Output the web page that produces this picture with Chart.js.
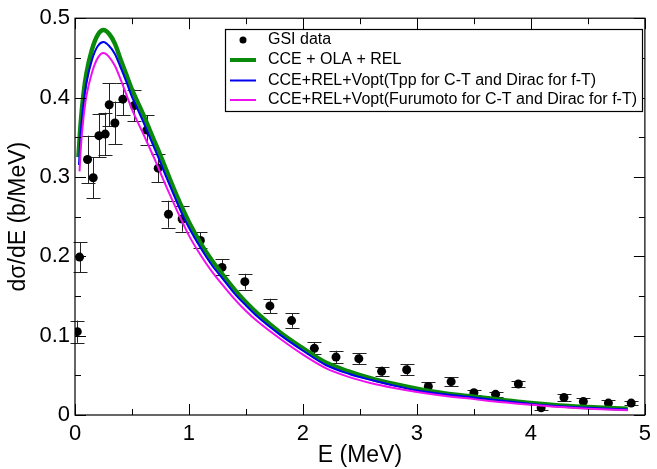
<!DOCTYPE html>
<html>
<head>
<meta charset="utf-8">
<script src="https://cdn.jsdelivr.net/npm/chart.js@4.4.1/dist/chart.umd.min.js"></script>
<style>
  html, body { margin: 0; padding: 0; background: #fff; }
  #wrap { width: 657px; height: 469px; }
</style>
</head>
<body>
<div id="wrap"><canvas id="c" width="657" height="469"></canvas></div>
<script>
// GSI measured spectrum: energy (MeV), dσ/dE (b/MeV), error
const gsiE   = [0.02, 0.04, 0.11, 0.16, 0.21, 0.265, 0.30, 0.35, 0.42, 0.52, 0.63, 0.73, 0.82, 0.94, 1.10, 1.29, 1.49, 1.71, 1.90, 2.10, 2.29, 2.49, 2.69, 2.91, 3.10, 3.30, 3.50, 3.69, 3.89, 4.09, 4.29, 4.46, 4.68, 4.88];
const gsiY   = [0.105, 0.199, 0.322, 0.299, 0.352, 0.354, 0.391, 0.368, 0.398, 0.390, 0.359, 0.311, 0.253, 0.247, 0.220, 0.186, 0.168, 0.1375, 0.119, 0.084, 0.073, 0.071, 0.055, 0.057, 0.036, 0.042, 0.028, 0.026, 0.039, 0.009, 0.022, 0.017, 0.015, 0.015];
const gsiErr = [0.014, 0.019, 0.030, 0.026, 0.027, 0.027, 0.027, 0.027, 0.020, 0.020, 0.019, 0.018, 0.017, 0.016, 0.010, 0.010, 0.010, 0.009, 0.009, 0.0075, 0.008, 0.007, 0.006, 0.007, 0.0055, 0.0055, 0.003, 0.003, 0.004, 0.003, 0.0045, 0.004, 0.004, 0.003];

// CCE + OLA + REL
const olaE = [0.03, 0.05, 0.075, 0.1, 0.15, 0.2, 0.25, 0.3, 0.35, 0.4, 0.45, 0.5, 0.55, 0.6, 0.65, 0.7, 0.75, 0.8, 0.85, 0.9, 0.95, 1.0, 1.1, 1.2, 1.3, 1.4, 1.5, 1.6, 1.8, 2.0, 2.2, 2.4, 2.6, 2.8, 3.0, 3.25, 3.5, 3.75, 4.0, 4.25, 4.5, 4.85];
const olaY = [0.325, 0.368, 0.405, 0.430, 0.461, 0.479, 0.485, 0.480, 0.468, 0.448, 0.429, 0.410, 0.394, 0.378, 0.361, 0.344, 0.327, 0.309, 0.291, 0.274, 0.258, 0.243, 0.217, 0.195, 0.176, 0.158, 0.142, 0.128, 0.104, 0.084, 0.066, 0.055, 0.046, 0.039, 0.033, 0.027, 0.023, 0.019, 0.015, 0.012, 0.010, 0.008];

// CCE+REL+Vopt (Tpp for C-T, Dirac for f-T)
const tppE = [0.035, 0.05, 0.075, 0.1, 0.15, 0.2, 0.25, 0.3, 0.35, 0.4, 0.45, 0.5, 0.55, 0.6, 0.65, 0.7, 0.75, 0.8, 0.85, 0.9, 0.95, 1.0, 1.1, 1.2, 1.3, 1.4, 1.5, 1.6, 1.8, 2.0, 2.2, 2.4, 2.6, 2.8, 3.0, 3.25, 3.5, 3.75, 4.0, 4.25, 4.5, 4.85];
const tppY = [0.315, 0.355, 0.393, 0.418, 0.448, 0.465, 0.470, 0.465, 0.455, 0.438, 0.420, 0.401, 0.385, 0.369, 0.352, 0.335, 0.318, 0.300, 0.283, 0.266, 0.250, 0.236, 0.211, 0.189, 0.171, 0.153, 0.138, 0.124, 0.101, 0.081, 0.063, 0.052, 0.044, 0.037, 0.031, 0.026, 0.022, 0.018, 0.014, 0.011, 0.009, 0.007];

// CCE+REL+Vopt (Furumoto for C-T, Dirac for f-T)
const furE = [0.04, 0.05, 0.075, 0.1, 0.15, 0.2, 0.25, 0.3, 0.35, 0.4, 0.45, 0.5, 0.55, 0.6, 0.65, 0.7, 0.75, 0.8, 0.85, 0.9, 0.95, 1.0, 1.1, 1.2, 1.3, 1.4, 1.5, 1.6, 1.8, 2.0, 2.2, 2.4, 2.6, 2.8, 3.0, 3.25, 3.5, 3.75, 4.0, 4.25, 4.5, 4.85];
const furY = [0.307, 0.335, 0.375, 0.402, 0.432, 0.450, 0.456, 0.451, 0.440, 0.423, 0.404, 0.385, 0.369, 0.354, 0.338, 0.322, 0.305, 0.288, 0.272, 0.256, 0.241, 0.226, 0.202, 0.181, 0.163, 0.146, 0.131, 0.118, 0.096, 0.076, 0.059, 0.048, 0.040, 0.034, 0.029, 0.024, 0.020, 0.016, 0.013, 0.010, 0.008, 0.006];

const seriesNames = [
  'GSI data',
  'CCE + OLA + REL',
  'CCE+REL+Vopt(Tpp for C-T and Dirac for f-T)',
  'CCE+REL+Vopt(Furumoto for C-T and Dirac for f-T)'
];
const xTicks = [0, 1, 2, 3, 4, 5];
const yTicks = [0, 0.1, 0.2, 0.3, 0.4, 0.5];

const FONT = '"Liberation Sans", Arial, Helvetica, sans-serif';
const GREEN = '#0a8a0a', BLUE = '#0000ee', MAGENTA = '#ee10ee';

const toPts = (xs, ys) => xs.map((x, i) => ({ x: x, y: ys[i] }));

// vertical error bars with caps, drawn underneath the curves
const errorBars = {
  id: 'errorBars',
  beforeDatasetsDraw(chart) {
    const { ctx, scales: { x, y } } = chart;
    ctx.save();
    ctx.strokeStyle = '#222';
    ctx.lineWidth = 1;
    gsiE.forEach((e, i) => {
      const px = Math.round(x.getPixelForValue(e)) + 0.5;
      const yt = y.getPixelForValue(gsiY[i] + gsiErr[i]);
      const yb = y.getPixelForValue(gsiY[i] - gsiErr[i]);
      ctx.beginPath();
      ctx.moveTo(px, yt); ctx.lineTo(px, yb);
      ctx.moveTo(px - 7, Math.round(yt) + 0.5); ctx.lineTo(px + 7, Math.round(yt) + 0.5);
      ctx.moveTo(px - 7, Math.round(yb) + 0.5); ctx.lineTo(px + 7, Math.round(yb) + 0.5);
      ctx.stroke();
    });
    ctx.restore();
  }
};

// frame with inward major/minor ticks on all four sides, plus the legend box
const frameAndLegend = {
  id: 'frameAndLegend',
  afterDraw(chart) {
    const { ctx, chartArea: a, scales: { x, y } } = chart;
    ctx.save();
    ctx.strokeStyle = '#000';
    ctx.lineWidth = 1.2;
    ctx.strokeRect(a.left, a.top, a.right - a.left, a.bottom - a.top);
    ctx.lineWidth = 1;
    ctx.beginPath();
    for (let v = 0; v <= 5.0001; v += 0.5) {
      const px = Math.round(x.getPixelForValue(v)) + 0.5;
      const len = Math.abs(v - Math.round(v)) < 1e-6 ? 11 : 6;
      ctx.moveTo(px, a.bottom); ctx.lineTo(px, a.bottom - len);
      ctx.moveTo(px, a.top); ctx.lineTo(px, a.top + len);
    }
    for (let k = 0; k <= 10; k++) {
      const py = Math.round(y.getPixelForValue(k * 0.05)) + 0.5;
      const len = k % 2 === 0 ? 11 : 6;
      ctx.moveTo(a.left, py); ctx.lineTo(a.left + len, py);
      ctx.moveTo(a.right, py); ctx.lineTo(a.right - len, py);
    }
    ctx.stroke();

    // legend
    const bx = 225, by = 29, bw = 417, bh = 82;
    ctx.fillStyle = '#fff';
    ctx.fillRect(bx, by, bw, bh);
    ctx.lineWidth = 1.2;
    ctx.strokeStyle = '#000';
    ctx.strokeRect(bx + 0.5, by + 0.5, bw, bh);
    ctx.font = '16px ' + FONT;
    ctx.textBaseline = 'middle';
    ctx.fillStyle = '#000';
    const rows = [40, 60, 80.5, 100];
    // symbol for data points
    ctx.beginPath();
    ctx.arc(243, rows[0], 3.5, 0, Math.PI * 2);
    ctx.fill();
    const lineStyles = [[GREEN, 4], [BLUE, 2], [MAGENTA, 2]];
    lineStyles.forEach(([col, w], i) => {
      ctx.strokeStyle = col;
      ctx.lineWidth = w;
      ctx.beginPath();
      ctx.moveTo(230, rows[i + 1]); ctx.lineTo(256, rows[i + 1]);
      ctx.stroke();
    });
    ctx.fillStyle = '#000';
    seriesNames.forEach((t, i) => ctx.fillText(t, 268, rows[i]));
    ctx.restore();
  }
};

new Chart(document.getElementById('c'), {
  type: 'scatter',
  data: {
    datasets: [
      { label: seriesNames[0], data: toPts(gsiE, gsiY), showLine: false,
        pointRadius: 4.5, pointBackgroundColor: '#000', pointBorderColor: '#000', pointBorderWidth: 0, order: 4 },
      { label: seriesNames[1], data: toPts(olaE, olaY), showLine: true, borderColor: GREEN,
        borderWidth: 4.5, pointRadius: 0, cubicInterpolationMode: 'monotone', order: 3 },
      { label: seriesNames[2], data: toPts(tppE, tppY), showLine: true, borderColor: BLUE,
        borderWidth: 2, pointRadius: 0, cubicInterpolationMode: 'monotone', order: 2 },
      { label: seriesNames[3], data: toPts(furE, furY), showLine: true, borderColor: MAGENTA,
        borderWidth: 2, pointRadius: 0, cubicInterpolationMode: 'monotone', order: 1 }
    ]
  },
  options: {
    responsive: false,
    animation: false,
    devicePixelRatio: 1,
    layout: { padding: { top: 15, right: 9, left: 0, bottom: 0 } },
    plugins: { legend: { display: false }, tooltip: { enabled: false } },
    scales: {
      x: {
        type: 'linear', min: 0, max: 5,
        afterFit(s) { s.height = 54; },
        afterBuildTicks(s) { s.ticks = xTicks.map(v => ({ value: v })); },
        grid: { display: false, drawTicks: false },
        border: { display: false },
        ticks: { font: { family: FONT, size: 22 }, color: '#000', padding: 6, maxRotation: 0 },
        title: { display: true, text: 'E (MeV)', color: '#000', font: { family: FONT, size: 23 }, padding: { top: 0, bottom: 0 } }
      },
      y: {
        type: 'linear', min: 0, max: 0.5,
        afterFit(s) { s.width = 75; },
        afterBuildTicks(s) { s.ticks = yTicks.map(v => ({ value: v })); },
        grid: { display: false, drawTicks: false },
        border: { display: false },
        ticks: { font: { family: FONT, size: 22 }, color: '#000', padding: 5,
                 callback: v => String(Math.round(v * 10) / 10) },
        title: { display: true, text: 'dσ/dE (b/MeV)', color: '#000', font: { family: FONT, size: 23 }, padding: { top: 5, bottom: 0 } }
      }
    }
  },
  plugins: [errorBars, frameAndLegend]
});
</script>
</body>
</html>
